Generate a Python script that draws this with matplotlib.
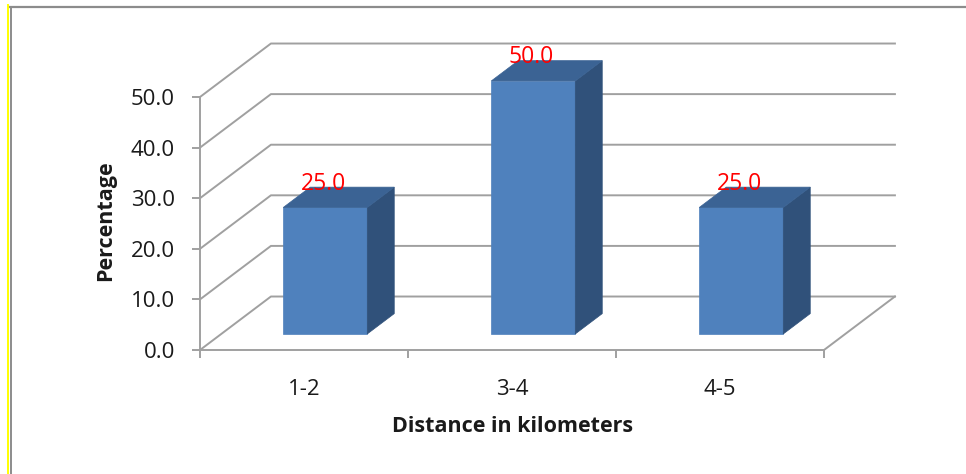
import matplotlib

matplotlib.use("Agg")
import matplotlib.pyplot as plt
from matplotlib.patches import Polygon

categories = ["1-2", "3-4", "4-5"]
percentages = [25.0, 50.0, 25.0]
y_ticks = [0, 10, 20, 30, 40, 50]

FRONT = "#4f81bd"
TOP = "#3b6394"
SIDE = "#30517a"
GRID = "#a0a0a0"

# oblique depth offset of the back wall, in data units
DEPTH_X = 0.341
DEPTH_Y = 10.57
BAR_W = 0.404
BAR_D0, BAR_D1 = 0.30, 0.68


def project(x, y, d):
    return (x + d * DEPTH_X, y + d * DEPTH_Y)


def draw_bar(ax, x_mid, value):
    x0, x1 = x_mid - BAR_W / 2, x_mid + BAR_W / 2
    faces = [
        ([project(x0, 0, BAR_D0), project(x1, 0, BAR_D0), project(x1, value, BAR_D0), project(x0, value, BAR_D0)], FRONT),
        ([project(x1, 0, BAR_D0), project(x1, 0, BAR_D1), project(x1, value, BAR_D1), project(x1, value, BAR_D0)], SIDE),
        ([project(x0, value, BAR_D0), project(x1, value, BAR_D0), project(x1, value, BAR_D1), project(x0, value, BAR_D1)], TOP),
    ]
    for pts, color in faces:
        ax.add_patch(Polygon(pts, closed=True, facecolor=color, edgecolor=color, lw=0.5, zorder=3, clip_on=False))


def main() -> None:
    plt.rcParams["font.family"] = ["Open Sans", "DejaVu Sans"]
    fig = plt.figure(figsize=(9.66, 4.74), dpi=100)

    # outer frame: gray top and left edge, yellow strip on the far left
    frame = fig.add_axes([0, 0, 1, 1])
    frame.set_xlim(0, 966)
    frame.set_ylim(474, 0)
    frame.axis("off")
    frame.plot([10, 966], [7, 7], color="#8c8c8c", lw=1.6)
    frame.plot([10.5, 10.5], [7, 474], color="#8c8c8c", lw=1.4)
    frame.plot([8, 8], [5, 474], color="#ffff00", lw=1.4)

    ax = fig.add_axes([200 / 966, 124 / 474, 624 / 966, 253 / 474])
    n = len(categories)
    ax.set_xlim(0, n)
    ax.set_ylim(0, max(y_ticks))
    ax.patch.set_alpha(0)

    # back wall, side wall and floor
    for v in y_ticks:
        pts = [project(0, v, 0), project(0, v, 1), project(n, v, 1)]
        ax.plot([p[0] for p in pts], [p[1] for p in pts], color=GRID, lw=1.4, zorder=1, clip_on=False)
    edge = [project(n, 0, 0), project(n, 0, 1)]
    ax.plot([p[0] for p in edge], [p[1] for p in edge], color=GRID, lw=1.4, zorder=1, clip_on=False)

    for spine in ("top", "right"):
        ax.spines[spine].set_visible(False)
    for spine in ("left", "bottom"):
        ax.spines[spine].set_color(GRID)
        ax.spines[spine].set_linewidth(1.4)

    ax.set_yticks(y_ticks)
    ax.set_yticklabels([f"{v:.1f}" for v in y_ticks])
    ax.tick_params(axis="y", length=6, width=1.4, color=GRID, pad=12, labelsize=16, labelcolor="#1a1a1a")

    ax.set_xticks([i + 0.5 for i in range(n)])
    ax.set_xticklabels(categories)
    ax.set_xticks(range(n + 1), minor=True)
    ax.tick_params(axis="x", which="major", length=0, pad=21, labelsize=16, labelcolor="#1a1a1a")
    ax.tick_params(axis="x", which="minor", length=6, width=1.4, color=GRID)

    for i, v in enumerate(percentages):
        draw_bar(ax, i + 0.5, v)
        lx, _ = project(i + 0.5, v, BAR_D0)
        ax.text(lx - 0.01, v + BAR_D1 * DEPTH_Y + 0.7, f"{v:.1f}", color="#ff0000", fontsize=16.5,
                ha="center", va="center", zorder=4)

    ax.text(0.5016, -0.304, "Distance in kilometers", transform=ax.transAxes, ha="center", va="center",
            fontsize=15.5, fontweight="bold", color="#1a1a1a")
    ax.text(-0.152, 0.51, "Percentage", transform=ax.transAxes, ha="center", va="center", rotation=90,
            fontsize=15.5, fontweight="bold", color="#1a1a1a")

    fig.savefig("out.png", dpi=100)
    plt.close(fig)


if __name__ == "__main__":
    main()
